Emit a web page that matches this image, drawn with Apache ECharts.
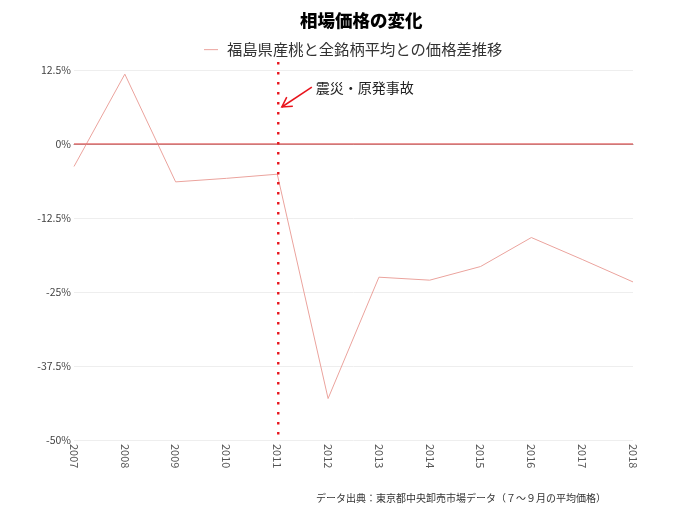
<!DOCTYPE html>
<html><head><meta charset="utf-8">
<script src="https://cdn.jsdelivr.net/npm/echarts@6/dist/echarts.min.js"></script>
<style>html,body{margin:0;padding:0;background:#fff}#c{width:680px;height:510px}</style>
</head><body><div id="c"></div>
<script>
const years = [2007, 2008, 2009, 2010, 2011, 2012, 2013, 2014, 2015, 2016, 2017, 2018];
const values = [-3.8, 11.8, -6.4, -5.8, -5.1, -43.0, -22.5, -23.0, -20.7, -15.8, -19.5, -23.3];
const yTicks = [-50, -37.5, -25, -12.5, 0, 12.5];
const titleText = '相場価格の変化';
const seriesName = '福島県産桃と全銘柄平均との価格差推移';
const eventYear = 2011;
const eventLabel = '震災・原発事故';
const sourceText = 'データ出典：東京都中央卸売市場データ（７～９月の平均価格）';
const arrowFrom = [2011.68, 9.6];
const arrowTo = [2011.09, 6.25];
const FONT = '"Noto Sans CJK JP", "Noto Sans", sans-serif';

const chart = echarts.init(document.getElementById('c'));
chart.setOption({
  animation: false,
  textStyle: { fontFamily: FONT },
  title: [{
    text: titleText, left: 295, top: 7,
    textStyle: { fontSize: 17.5, fontWeight: 900, color: '#000', fontFamily: FONT }
  }, {
    text: sourceText, left: 311, top: 488,
    textStyle: { fontSize: 10, fontWeight: 'normal', color: '#333', fontFamily: FONT }
  }],
  legend: {
    top: 37, left: 199, itemWidth: 14, itemHeight: 10, icon: 'path://M0,4.5 L14,4.5 L14,5.5 L0,5.5 Z',
    textStyle: { fontSize: 15.3, color: '#333', fontFamily: FONT, padding: [0, 0, 0, 4] },
    data: [{ name: seriesName, itemStyle: { color: '#eba39d' } }]
  },
  grid: { left: 74, right: 47, top: 70, bottom: 70 },
  xAxis: {
    type: 'value', min: years[0], max: years[years.length - 1], interval: 1,
    axisLine: { lineStyle: { color: '#888', width: 1 } },
    axisTick: { show: false },
    splitLine: { show: false },
    axisLabel: { rotate: -90, fontSize: 11, color: '#555', margin: 4, formatter: v => String(v), fontFamily: FONT }
  },
  yAxis: {
    type: 'value', min: yTicks[0], max: yTicks[yTicks.length - 1], interval: 12.5,
    axisLine: { show: false }, axisTick: { show: false },
    splitLine: { lineStyle: { color: '#eeeeee', width: 1 } },
    axisLabel: { fontSize: 10.5, color: '#444', margin: 3, formatter: v => v + '%', fontFamily: FONT }
  },
  series: [{
    name: seriesName, type: 'line',
    data: years.map((y, i) => [y, values[i]]),
    showSymbol: false, symbol: 'none',
    lineStyle: { color: '#eba39d', width: 1 },
    itemStyle: { color: '#eba39d' },
    markLine: {
      silent: true, animation: false,
      label: { show: false },
      symbol: 'none',
      data: [
        [{ coord: [years[0], 0], lineStyle: { color: '#e57373', width: 1.5, type: 'solid' } },
         { coord: [years[years.length - 1], 0] }]
      ]
    }
  }]
});

const px = p => chart.convertToPixel({ gridIndex: 0 }, p);
const vTop = px([eventYear, yTicks[yTicks.length - 1]]);
const vBot = px([eventYear, yTicks[0]]);
const a0 = px(arrowFrom), a1 = px(arrowTo);
const dx = a0[0] - a1[0], dy = a0[1] - a1[1];
const len = Math.hypot(dx, dy), ux = dx / len, uy = dy / len;
const ang = Math.PI / 6, L = 11;
const rot = (t) => [a1[0] + L * (ux * Math.cos(t) - uy * Math.sin(t)), a1[1] + L * (ux * Math.sin(t) + uy * Math.cos(t))];
const w1 = rot(ang), w2 = rot(-ang);
chart.setOption({
  graphic: [
    { type: 'line', shape: { x1: vTop[0] + 1, y1: vTop[1] - 8, x2: vBot[0] + 1, y2: vBot[1] },
      style: { stroke: '#e8141c', lineWidth: 2.4, lineDash: [2.4, 7.6] }, silent: true, z: 10 },
    { type: 'line', shape: { x1: a0[0], y1: a0[1], x2: a1[0], y2: a1[1] },
      style: { stroke: '#e8141c', lineWidth: 1.5 }, silent: true, z: 10 },
    { type: 'polyline', shape: { points: [w1, a1, w2] },
      style: { stroke: '#e8141c', lineWidth: 1.5, fill: null }, silent: true, z: 10 },
    { type: 'text', x: a0[0] + 4, y: a0[1] + 1,
      style: { text: eventLabel, font: '14px ' + FONT, fill: '#222', verticalAlign: 'middle' }, z: 10 }
  ]
});
</script></body></html>
